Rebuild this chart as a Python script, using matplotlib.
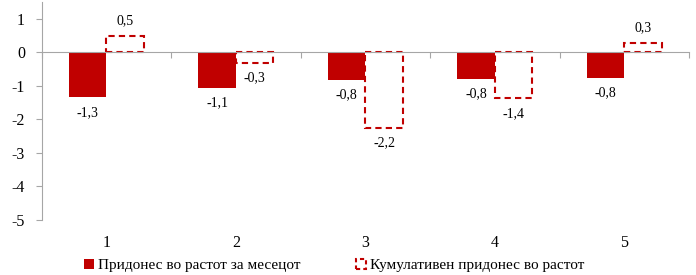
import numpy as np
import matplotlib.pyplot as plt
from matplotlib.patches import Patch
from matplotlib.transforms import blended_transform_factory

categories = ['1', '2', '3', '4', '5']
monthly = [-1.34, -1.07, -0.81, -0.78, -0.77]
cumulative = [0.5, -0.3, -2.24, -1.37, 0.29]
series_names = ['Придонес во растот за месецот', 'Кумулативен придонес во растот']

red = '#C00000'
grey = '#A6A6A6'
plt.rcParams['font.family'] = ['Liberation Serif', 'DejaVu Serif']
plt.rcParams['axes.unicode_minus'] = False

fig = plt.figure(figsize=(6.96, 2.75), dpi=100)
ax = fig.add_axes([0.060, 0.20, 0.930, 0.792])

x = np.arange(len(categories))
w = 0.29
ax.bar(x - w / 2, monthly, w, color=red, edgecolor='none', zorder=2)
ax.bar(x + w / 2, cumulative, w, facecolor='none', edgecolor=red,
       linestyle=(0, (3, 2)), linewidth=1.5, zorder=2)

# data labels
def fmt(v):
    return f'{v:.1f}'.replace('.', ',')

for xs, vals in ((x - w / 2, monthly), (x + w / 2, cumulative)):
    for xi, v in zip(xs, vals):
        off = 6 if v >= 0 else -6
        ax.annotate(fmt(v), (xi, v), xytext=(0, off), textcoords='offset points',
                    ha='center', va='bottom' if v >= 0 else 'top', fontsize=10)

ax.set_xlim(-0.5, len(categories) - 0.5)
ax.set_ylim(-5, 1.5)
ax.set_yticks(range(-5, 2))
ax.tick_params(axis='y', direction='out', length=4, color=grey, labelsize=11.5, pad=8)

for s in ('top', 'right'):
    ax.spines[s].set_visible(False)
ax.spines['left'].set_color(grey)
ax.spines['bottom'].set_color(grey)
ax.spines['bottom'].set_position(('data', 0))
ax.spines['bottom'].set_zorder(3)
ax.set_xticks(np.arange(len(categories) + 1) - 0.5)
ax.set_xticklabels([])
ax.tick_params(axis='x', direction='out', length=4, color=grey)

trans = blended_transform_factory(ax.transData, ax.transAxes)
for xi, lab in zip(x, categories):
    ax.text(xi, -0.105, lab, transform=trans, ha='center', va='center', fontsize=11.5)

handles = [Patch(facecolor=red, edgecolor='none'),
           Patch(facecolor='none', edgecolor=red, linestyle=(0, (2, 1.5)), linewidth=1.5)]
fig.legend(handles, series_names, loc='center', bbox_to_anchor=(0.48, 0.035), ncol=2,
           frameon=False, fontsize=11, handlelength=0.65, handleheight=0.65,
           handletextpad=0.3, columnspacing=3.6)

fig.savefig('out.png', dpi=100)
